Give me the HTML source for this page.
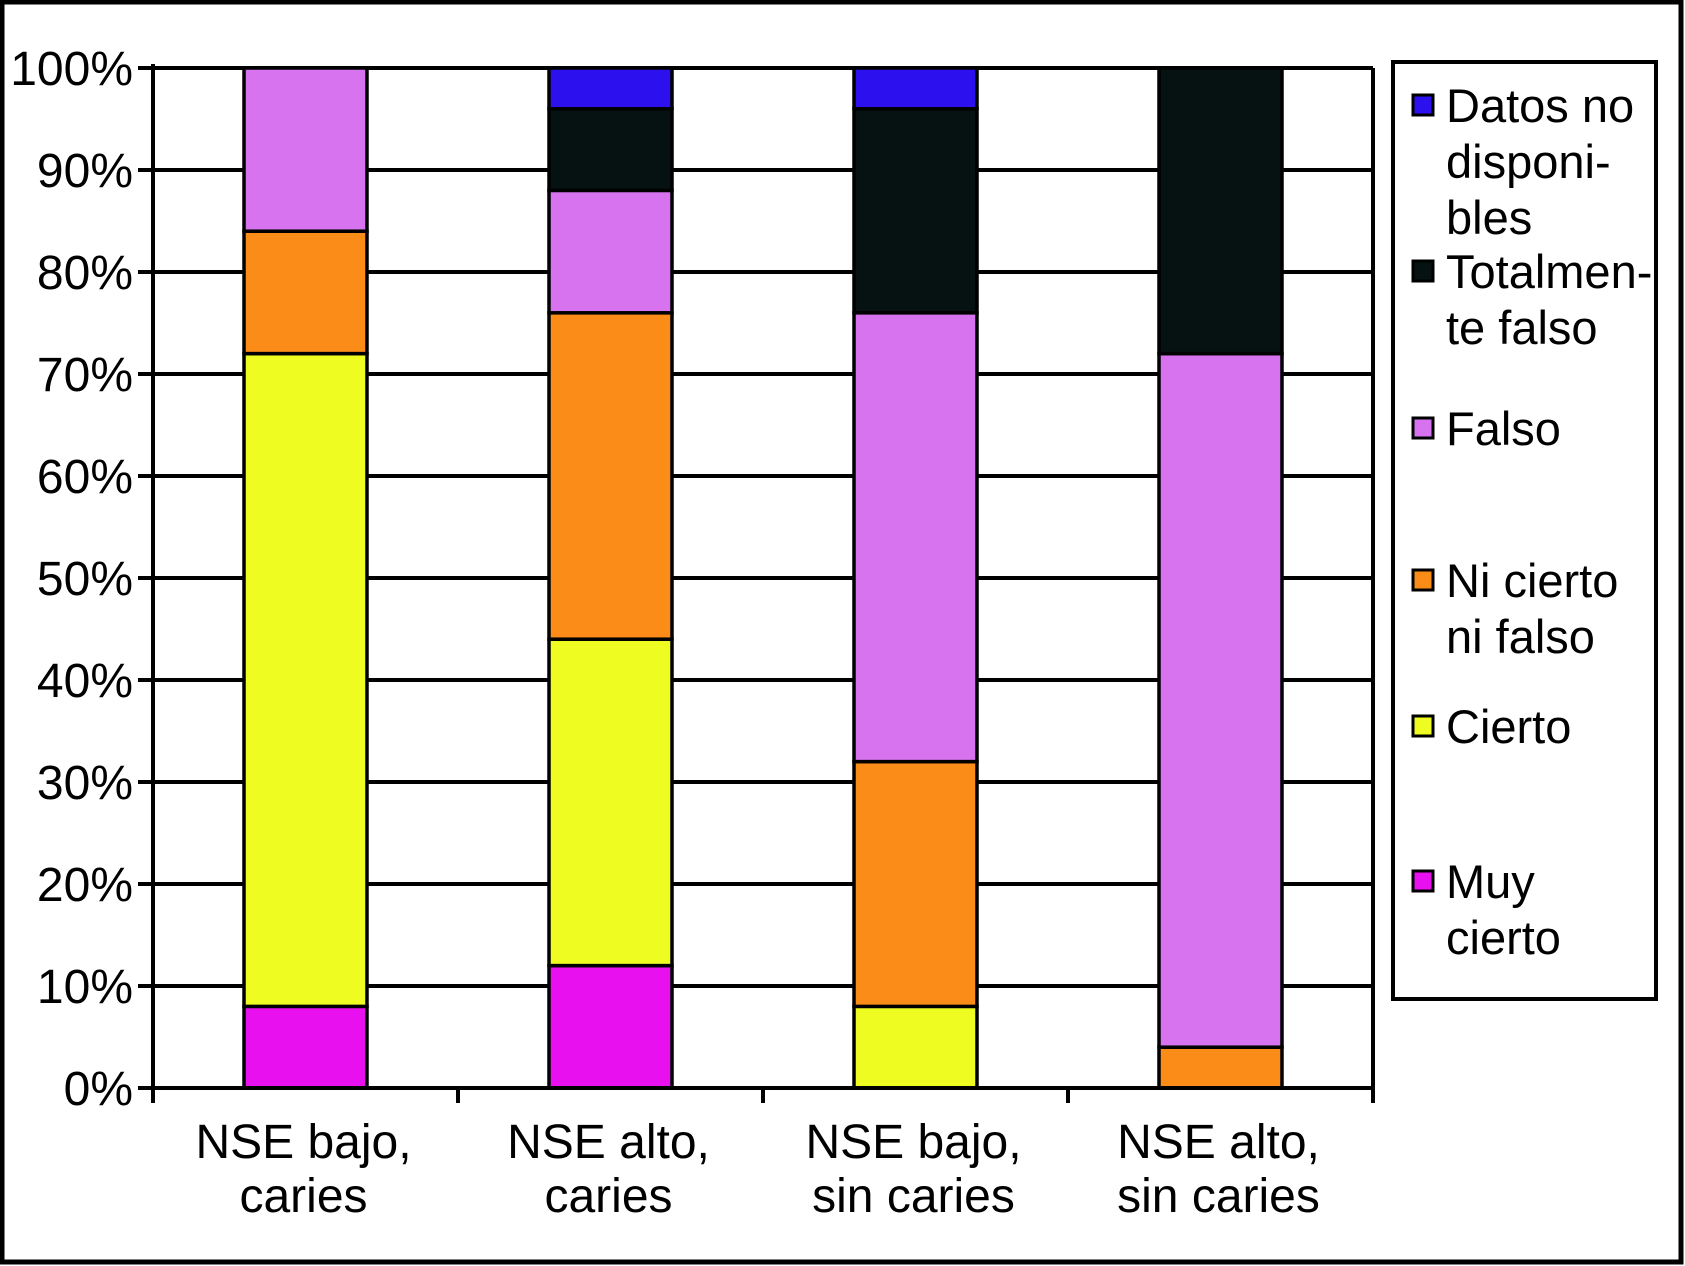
<!DOCTYPE html>
<html><head><meta charset="utf-8"><style>
html,body{margin:0;padding:0;background:#fff}
svg{display:block}
text{font-family:"Liberation Sans",Arial,sans-serif;fill:#000}
</style></head><body>
<svg id="chart" width="1685" height="1266" viewBox="0 0 1685 1266" xmlns="http://www.w3.org/2000/svg">
<rect x="2" y="2" width="1679" height="1260" fill="#fff" stroke="#000" stroke-width="5"/>
<g id="grid"></g><g id="bars"></g><g id="axes"></g><g id="legend"></g>
</svg>
<script>
const categories=[["NSE bajo,","caries"],["NSE alto,","caries"],["NSE bajo,","sin caries"],["NSE alto,","sin caries"]];
const seriesNames=["Muy cierto","Cierto","Ni cierto ni falso","Falso","Totalmente falso","Datos no disponibles"];
const muyCierto=[8,12,0,0];
const cierto=[64,32,8,0];
const niCierto=[12,32,24,4];
const falso=[16,12,44,68];
const totalFalso=[0,8,20,28];
const datosNo=[0,4,4,0];
const yTicks=[0,10,20,30,40,50,60,70,80,90,100];
const colors=["#e810ee","#eefc22","#fb8c18","#d873f0","#061212","#2d10ee"];
const series=[muyCierto,cierto,niCierto,falso,totalFalso,datosNo];
const NS="http://www.w3.org/2000/svg";
const L=153,R=1373,T=68,B=1088;
const y=v=>B-(B-T)*v/100;
const bw=(R-L)/categories.length;
const xc=i=>L+bw*(i+0.5);
function mk(tag,attrs,parent){const e=document.createElementNS(NS,tag);for(const k in attrs)e.setAttribute(k,attrs[k]);document.getElementById(parent).appendChild(e);return e;}
yTicks.forEach(t=>{
 const g=mk('line',{x1:138,x2:R,y1:y(t),y2:y(t),stroke:'#000','stroke-width':4},'grid');
 
 
 const tx=mk('text',{x:133,y:y(t)+17,'text-anchor':'end','font-size':48},'axes');
 tx.textContent=t+'%';
 
 
});
const barW=123;
categories.forEach((c,i)=>{
 let acc=0;
 series.forEach((s,j)=>{
  const v=s[i]; if(v<=0){return;}
  const r=mk('rect',{x:xc(i)-barW/2,y:y(acc+v),width:barW,height:y(acc)-y(acc+v),fill:colors[j],stroke:'#000','stroke-width':3.5},'bars');
  
  
  acc+=v;
 });
 c.forEach((ln,k)=>{
  const t=mk('text',{x:xc(i)-2,y:1158+k*54,'text-anchor':'middle','font-size':48},'axes');
  t.textContent=ln;
  
  
 });
});
const ax=mk('line',{x1:L,x2:L,y1:T-4,y2:B,stroke:'#000','stroke-width':4},'axes');


const rx=mk('line',{x1:R,x2:R,y1:T,y2:B,stroke:'#000','stroke-width':4},'axes');


const xa=mk('line',{x1:L,x2:R+2,y1:B,y2:B,stroke:'#000','stroke-width':4},'axes');


for(let i=0;i<=categories.length;i++){
 const tk=mk('line',{x1:L+bw*i,x2:L+bw*i,y1:B,y2:B+15,stroke:'#000','stroke-width':4},'axes');
 
 
}
const lb=mk('rect',{x:1393,y:62,width:263,height:937,fill:'#fff',stroke:'#000','stroke-width':4},'legend');


const legLines=[["Datos no","disponi-","bles"],["Totalmen-","te falso"],["Falso"],["Ni cierto","ni falso"],["Cierto"],["Muy","cierto"]];
const legCenters=[105,271,428,580,726,881];
const legColors=[colors[5],colors[4],colors[3],colors[2],colors[1],colors[0]];
legLines.forEach((lines,i)=>{
 const m=mk('rect',{x:1413,y:legCenters[i]-10,width:20,height:20,fill:legColors[i],stroke:'#000','stroke-width':3},'legend');
 
 
 lines.forEach((ln,k)=>{
  const t=mk('text',{x:1446,y:legCenters[i]+17+k*56,'font-size':47},'legend');
  t.textContent=ln;
  
  
 });
});
</script>
</body></html>
